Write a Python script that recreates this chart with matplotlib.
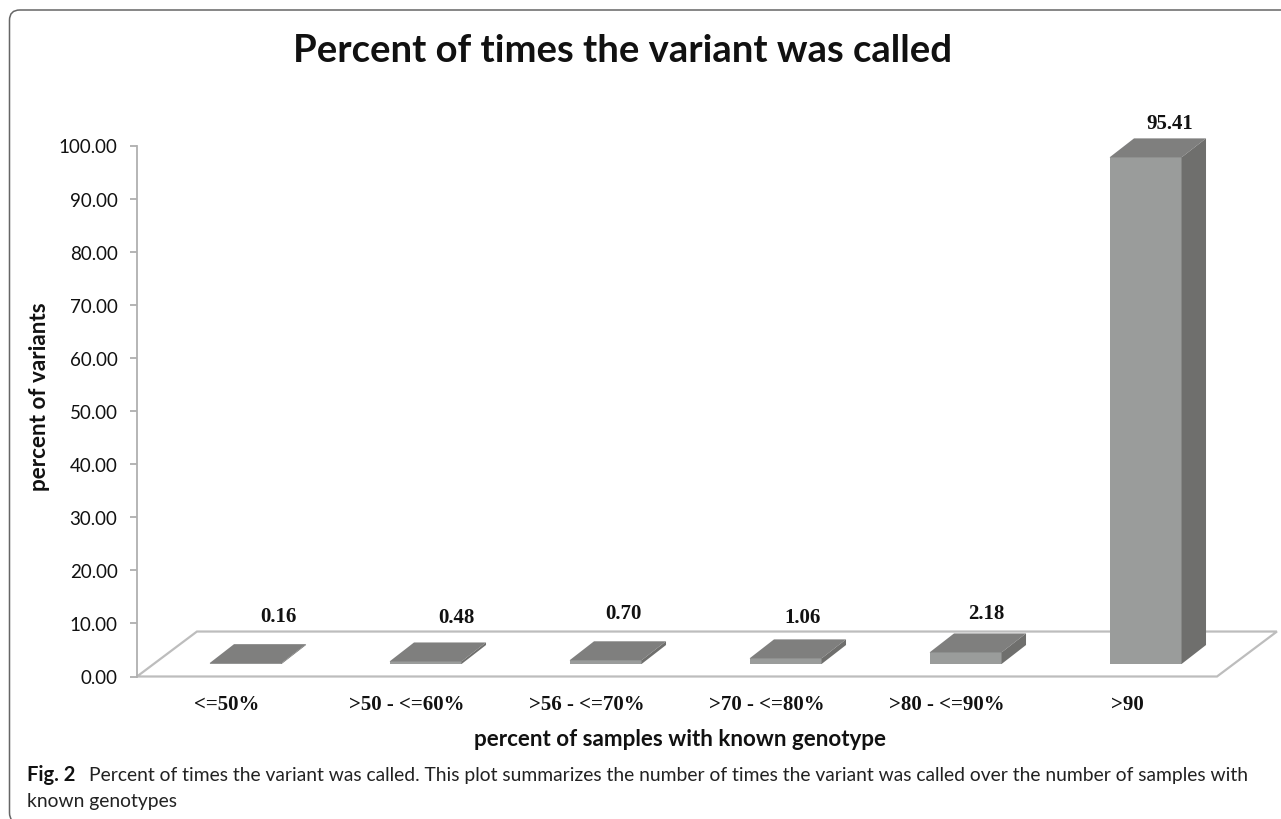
import matplotlib
matplotlib.use("Agg")
import matplotlib.pyplot as plt
from matplotlib.patches import Polygon, FancyBboxPatch

categories = ["<=50%", ">50 - <=60%", ">56 - <=70%", ">70 - <=80%", ">80 - <=90%", ">90"]
values = [0.16, 0.48, 0.70, 1.06, 2.18, 95.41]
value_labels = ["0.16", "0.48", "0.70", "1.06", "2.18", "95.41"]
y_ticks = [0, 10, 20, 30, 40, 50, 60, 70, 80, 90, 100]

W, H = 1281, 820
SERIF = "Liberation Serif"
SANS = "Lato"

# 3d look: offsets in data units
FLOOR_DX, FLOOR_DY = 0.333, 8.47
BAR_DX, BAR_DY = 0.136, 3.58
BAR_X, BAR_Y = 0.103, 2.35
BAR_W = 0.40

# the labels were placed by hand in the original, pixels from the bar top
label_nudge = [(21, 28), (19, 25), (6, 28), (5, 22), (9, 20), (12, 15)]

fig = plt.figure(figsize=(W / 100, H / 100), dpi=100)
ax = fig.add_axes([137 / W, 1 - 677.5 / H, 1080 / W, 531 / H])
ax.set_xlim(-0.5, 5.5)
ax.set_ylim(0, 100)

for s in ["top", "right", "bottom"]:
    ax.spines[s].set_visible(False)
ax.spines["left"].set_color("#b0b0b0")
ax.spines["left"].set_linewidth(1.3)
ax.set_yticks(y_ticks)
ax.set_yticklabels(["%.2f" % t for t in y_ticks], fontsize=13.5, family=SANS, color="#111111")
ax.tick_params(axis="y", length=5, width=1.1, color="#a0a0a0", pad=9)
ax.set_xticks([])

# floor
floor = Polygon([(-0.5, 0), (5.5, 0), (5.5 + FLOOR_DX, FLOOR_DY), (-0.5 + FLOOR_DX, FLOOR_DY)],
                closed=True, facecolor="white", edgecolor="#bdbdbd", linewidth=1.6, clip_on=False, zorder=1)
ax.add_patch(floor)

for i, (v, lab) in enumerate(zip(values, value_labels)):
    x0 = i - BAR_W / 2 + BAR_X
    x1 = x0 + BAR_W
    y0 = BAR_Y
    y1 = y0 + v
    ax.add_patch(Polygon([(x0, y0), (x1, y0), (x1, y1), (x0, y1)], facecolor="#9a9c9b",
                         edgecolor="none", clip_on=False, zorder=3))
    ax.add_patch(Polygon([(x0, y1), (x1, y1), (x1 + BAR_DX, y1 + BAR_DY), (x0 + BAR_DX, y1 + BAR_DY)],
                         facecolor="#7f7f7e", edgecolor="none", clip_on=False, zorder=3))
    ax.add_patch(Polygon([(x1, y0), (x1 + BAR_DX, y0 + BAR_DY), (x1 + BAR_DX, y1 + BAR_DY), (x1, y1)],
                         facecolor="#6f6f6d", edgecolor="none", clip_on=False, zorder=3))
    ax.annotate(lab, (i + BAR_X + BAR_DX / 2, y1 + BAR_DY), xytext=label_nudge[i], textcoords="offset pixels",
                ha="center", va="center", fontsize=15, fontweight="bold", family=SERIF, color="#111111",
                annotation_clip=False)
    ax.annotate(categories[i], (i, 0), xytext=(0, -28), textcoords="offset pixels",
                ha="center", va="center", fontsize=15, fontweight="bold", family=SERIF, color="#111111",
                annotation_clip=False)

fig.text(623 / W, 1 - 51 / H, "Percent of times the variant was called", ha="center", va="center",
         fontsize=27.5, fontweight="bold", family=SANS, color="#111111")
fig.text(40 / W, 1 - 397 / H, "percent of variants", rotation=90, ha="center", va="center",
         fontsize=16.2, fontweight="bold", family=SANS, color="#111111")
fig.text(680 / W, 1 - 740 / H, "percent of samples with known genotype", ha="center", va="center",
         fontsize=16.1, fontweight="bold", family=SANS, color="#111111")

# caption
fig.text(27 / W, 1 - 781 / H, "Fig. 2", ha="left", va="baseline", fontsize=14.5, fontweight="bold",
         family=SANS, color="#111111")
fig.text(89 / W, 1 - 781 / H,
         "Percent of times the variant was called. This plot summarizes the number of times the variant was called over the number of samples with",
         ha="left", va="baseline", fontsize=13.9, family=SANS, color="#222222")
fig.text(27 / W, 1 - 807 / H, "known genotypes", ha="left", va="baseline", fontsize=13.9, family=SANS, color="#222222")

# frame runs off the right and bottom of the picture
frame = FancyBboxPatch((9.5 / W, 1 - 824 / H), 1400 / W, 813 / H, boxstyle="round,pad=0,rounding_size=0.008",
                       transform=fig.transFigure, facecolor="none", edgecolor="#666666", linewidth=1.1,
                       mutation_aspect=W / H)
fig.add_artist(frame)

fig.savefig("out.png", dpi=100)
